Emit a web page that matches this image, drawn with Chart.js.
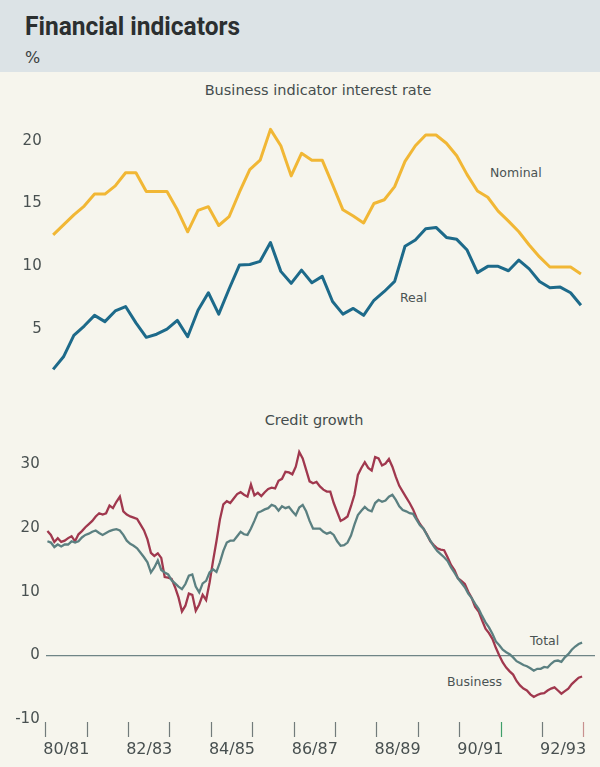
<!DOCTYPE html>
<html>
<head>
<meta charset="utf-8">
<script src="https://cdn.jsdelivr.net/npm/chart.js@4.4.1/dist/chart.umd.min.js"></script>
<style>
html,body{margin:0;padding:0;}
body{width:600px;height:767px;position:relative;background:#f6f5ed;overflow:hidden;font-family:"DejaVu Sans",sans-serif;color:#465050;}
#band{position:absolute;left:0;top:0;width:600px;height:72px;background:#dce3e6;}
#title{position:absolute;left:25px;top:14px;font-family:Roboto,"Liberation Sans",sans-serif;font-weight:700;font-size:25px;line-height:25px;color:#2b2f30;white-space:nowrap;transform-origin:0 0;}
#pct{position:absolute;left:25px;top:50px;font-size:16px;line-height:16px;color:#3a4040;}
.sub{position:absolute;font-size:14.5px;line-height:14.5px;white-space:nowrap;transform:translate(-50%,-50%);color:#454d4d;}
.lab{position:absolute;font-size:12.5px;line-height:12.5px;white-space:nowrap;transform:translateY(-50%);color:#4a5353;}
canvas{position:absolute;left:0;}
</style>
</head>
<body>
<div id="band"></div>
<div id="title">Financial indicators</div>
<div id="pct">%</div>
<div class="sub" style="left:318px;top:90px;">Business indicator interest rate</div>
<div class="sub" style="left:314px;top:420px;">Credit growth</div>
<div class="lab" style="left:490px;top:173px;">Nominal</div>
<div class="lab" style="left:400px;top:298px;">Real</div>
<div class="lab" style="left:530px;top:641px;">Total</div>
<div class="lab" style="left:447px;top:682px;">Business</div>
<canvas id="top" width="600" height="315" style="top:90px;width:600px;height:315px;"></canvas>
<canvas id="bot" width="600" height="337" style="top:430px;width:600px;height:337px;"></canvas>
<script>
// ---- Data ----
// Business indicator interest rate, quarterly, Sep qtr 1980 .. Jun qtr 1993 (%)
const nominal = [12.5,13.3,14.1,14.8,15.75,15.75,16.4,17.45,17.45,15.95,15.95,15.95,14.5,12.75,14.45,14.75,13.25,13.95,15.9,17.7,18.45,20.9,19.6,17.2,
  19.0,18.45,18.45,16.5,14.5,14.0,13.45,15.0,15.3,16.35,18.35,19.6,20.45,20.45,19.8,18.8,17.3,16.0,15.5,14.4,13.6,12.75,11.7,10.75,9.95,9.95,9.95,9.4];
const real = [1.8,2.8,4.5,5.25,6.1,5.6,6.45,6.8,5.5,4.35,4.6,5.0,5.7,4.4,6.5,7.9,6.2,8.2,10.1,10.15,10.4,11.9,9.6,8.65,
  9.7,8.7,9.2,7.2,6.2,6.65,6.1,7.3,8.0,8.8,11.6,12.1,13.0,13.1,12.3,12.15,11.3,9.5,10.0,10.0,9.65,10.5,9.8,8.8,8.3,8.35,7.9,6.9];
// Credit growth, monthly, Jul 1980 .. Jun 1993 (% change over year)
const business = [19.5,18.9,17.8,18.4,17.8,18.0,18.4,18.7,17.9,19.0,
  19.5,20.1,20.6,21.1,21.8,22.3,22.1,22.3,23.5,23.1,
  24.1,24.9,22.6,22.1,21.8,21.6,21.4,20.5,19.6,18.2,
  16.1,15.6,16.0,15.3,12.3,12.2,12.0,10.7,9.1,6.9,
  7.8,9.7,9.5,7.0,8.0,9.5,8.7,11.4,14.8,17.9,
  21.3,23.7,24.2,23.9,24.6,25.3,25.6,25.2,24.9,26.8,
  25.1,25.5,25.0,25.6,26.1,26.3,26.2,27.4,27.7,28.8,
  28.7,28.4,29.6,31.9,30.9,29.1,27.3,27.0,27.2,26.5,
  26.0,25.7,25.7,23.9,22.5,21.1,21.4,21.8,23.4,25.2,
  28.3,29.4,30.3,29.4,29.0,31.1,30.9,29.8,30.1,30.8,
  29.6,28.0,26.6,25.7,24.8,23.9,22.9,21.6,20.6,19.9,
  19.0,17.9,17.3,16.8,16.6,16.5,15.4,14.2,13.4,12.1,
  11.7,11.2,10.0,9.0,7.6,6.9,5.5,4.2,3.5,2.6,
  1.2,0.0,-1.1,-1.9,-2.5,-3.0,-4.0,-4.7,-5.2,-5.5,
  -6.1,-6.5,-6.2,-6.0,-5.9,-5.5,-5.2,-5.0,-5.5,-6.0,
  -5.6,-5.2,-4.5,-4.0,-3.5,-3.3];
const total = [17.9,17.7,17.0,17.4,17.1,17.4,17.4,17.9,17.7,17.9,
  18.5,18.9,19.1,19.4,19.6,19.2,18.9,19.2,19.5,19.7,
  19.8,19.6,18.9,18.0,17.5,17.2,16.8,16.1,15.4,14.6,
  13.0,13.8,14.9,13.4,13.0,12.7,11.8,11.3,10.8,10.4,
  11.2,12.5,12.7,10.8,9.9,11.3,11.7,13.0,13.5,13.1,
  14.6,16.4,17.7,18.0,18.0,18.7,19.4,19.0,18.9,19.9,
  21.1,22.4,22.6,22.9,23.1,23.6,23.4,22.7,23.4,23.1,
  23.3,22.6,22.0,23.2,23.6,22.6,21.1,19.9,19.9,19.9,
  19.4,19.1,19.3,18.9,17.9,17.2,17.3,17.7,18.8,20.5,
  22.0,22.7,23.3,22.8,22.6,23.9,24.4,24.1,24.3,24.9,
  25.2,24.4,23.4,22.8,22.6,22.3,22.2,21.3,20.4,19.9,
  18.9,18.0,17.1,16.4,15.9,15.4,14.8,13.8,13.0,12.1,
  11.4,10.7,9.7,9.0,8.1,7.3,6.2,5.2,4.4,3.4,
  2.2,1.6,0.9,0.5,0.2,-0.3,-0.9,-1.2,-1.5,-1.7,
  -2.0,-2.4,-2.1,-2.1,-1.8,-1.9,-1.3,-0.9,-0.8,-1.0,
  -0.3,0.2,0.9,1.4,1.8,2.0];
const fiscalYearLabels = ['80/81','82/83','84/85','86/87','88/89','90/91','92/93'];
const topTicks = [5,10,15,20];
const bottomTicks = [-10,0,10,20,30];

// ---- Time positions (fiscal years start 1 July) ----
const FY_START = 1980.5;          // 1 July 1980
const X_MIN = FY_START, X_MAX = 1993.77;
const qx = i => FY_START + 0.18 + i * 0.25;      // quarterly observations
const mx = j => FY_START + (j + 0.5) / 12;        // monthly observations

const labelByTick = {};
fiscalYearLabels.forEach((l, k) => { labelByTick[(FY_START + 0.5 + 2 * k).toFixed(2)] = l; });
const boundaryTicks = [];
for (let k = 0; k <= 13; k++) boundaryTicks.push(FY_START + k);

const txt = '#485050';
const tickFont = {family: 'DejaVu Sans', size: 15};

new Chart(document.getElementById('top'), {
  type: 'line',
  data: {datasets: [
    {data: nominal.map((v, i) => ({x: qx(i), y: v})), borderColor: '#f1b735', borderWidth: 3, pointRadius: 0, tension: 0, borderJoinStyle: 'round'},
    {data: real.map((v, i) => ({x: qx(i), y: v})), borderColor: '#1d6a8a', borderWidth: 3, pointRadius: 0, tension: 0, borderJoinStyle: 'round'}
  ]},
  options: {
    animation: false, responsive: false, maintainAspectRatio: false, devicePixelRatio: 1,
    layout: {padding: {top: 7.8, bottom: 8.7, left: 0, right: 5}},
    plugins: {legend: {display: false}, tooltip: {enabled: false}},
    scales: {
      x: {type: 'linear', min: X_MIN, max: X_MAX, display: false},
      y: {min: 0, max: 23,
          afterBuildTicks: s => { s.ticks = topTicks.map(v => ({value: v})); },
          afterFit: s => { s.width = 45.7; },
          grid: {display: false, drawTicks: false}, border: {display: false},
          ticks: {padding: 4, color: txt, font: tickFont}}
    }
  }
});

const tickColor = ctx => {
  const v = ctx.tick ? ctx.tick.value : null;
  if (v === null) return 'transparent';
  if (Math.abs(v - 1991.5) < 0.01) return '#3f9e6a';
  if (Math.abs(v - 1993.5) < 0.01) return '#c8908f';
  return Math.abs(v - Math.round(v - 0.5) - 0.5) < 0.01 ? '#727b7b' : 'transparent';
};

new Chart(document.getElementById('bot'), {
  type: 'line',
  data: {datasets: [
    {data: total.map((v, j) => ({x: mx(j), y: v})), borderColor: '#5b8081', borderWidth: 2.3, pointRadius: 0, tension: 0},
    {data: business.map((v, j) => ({x: mx(j), y: v})), borderColor: '#a0384e', borderWidth: 2.3, pointRadius: 0, tension: 0}
  ]},
  options: {
    animation: false, responsive: false, maintainAspectRatio: false, devicePixelRatio: 1,
    layout: {padding: {top: 13.2, bottom: 0, left: 0, right: 5}},
    plugins: {legend: {display: false}, tooltip: {enabled: false}},
    scales: {
      x: {type: 'linear', min: X_MIN, max: X_MAX, position: 'bottom',
          afterBuildTicks: s => {
            const t = boundaryTicks.map(v => ({value: v}));
            Object.keys(labelByTick).forEach(k => t.push({value: parseFloat(k)}));
            t.sort((a, b) => a.value - b.value);
            s.ticks = t;
          },
          afterFit: s => { s.height = 45; },
          grid: {drawOnChartArea: false, drawTicks: true, tickLength: 15, tickWidth: 1.2, tickColor: tickColor, color: 'transparent'},
          border: {display: false},
          ticks: {autoSkip: false, maxRotation: 0, minRotation: 0, padding: 3, color: txt,
                  font: {family: 'DejaVu Sans', size: 16},
                  callback: v => labelByTick[Number(v).toFixed(2)] || ''}},
      y: {min: -10.436, max: 33,
          afterBuildTicks: s => { s.ticks = bottomTicks.map(v => ({value: v})); },
          afterFit: s => { s.width = 45.7; },
          grid: {drawTicks: false, lineWidth: 1.2, color: ctx => (ctx.tick && ctx.tick.value === 0) ? '#6f8586' : 'transparent'},
          border: {display: false},
          ticks: {padding: 6, color: txt, font: tickFont}}
    }
  }
});

// fit title to measured width of the original heading
(function(){
  const el = document.getElementById('title');
  const c = document.createElement('canvas').getContext('2d');
  c.font = '700 25px Roboto';
  const w = c.measureText(el.textContent).width;
  if (w > 0) el.style.transform = 'scaleX(' + (215 / w) + ')';
})();
</script>
</body>
</html>
